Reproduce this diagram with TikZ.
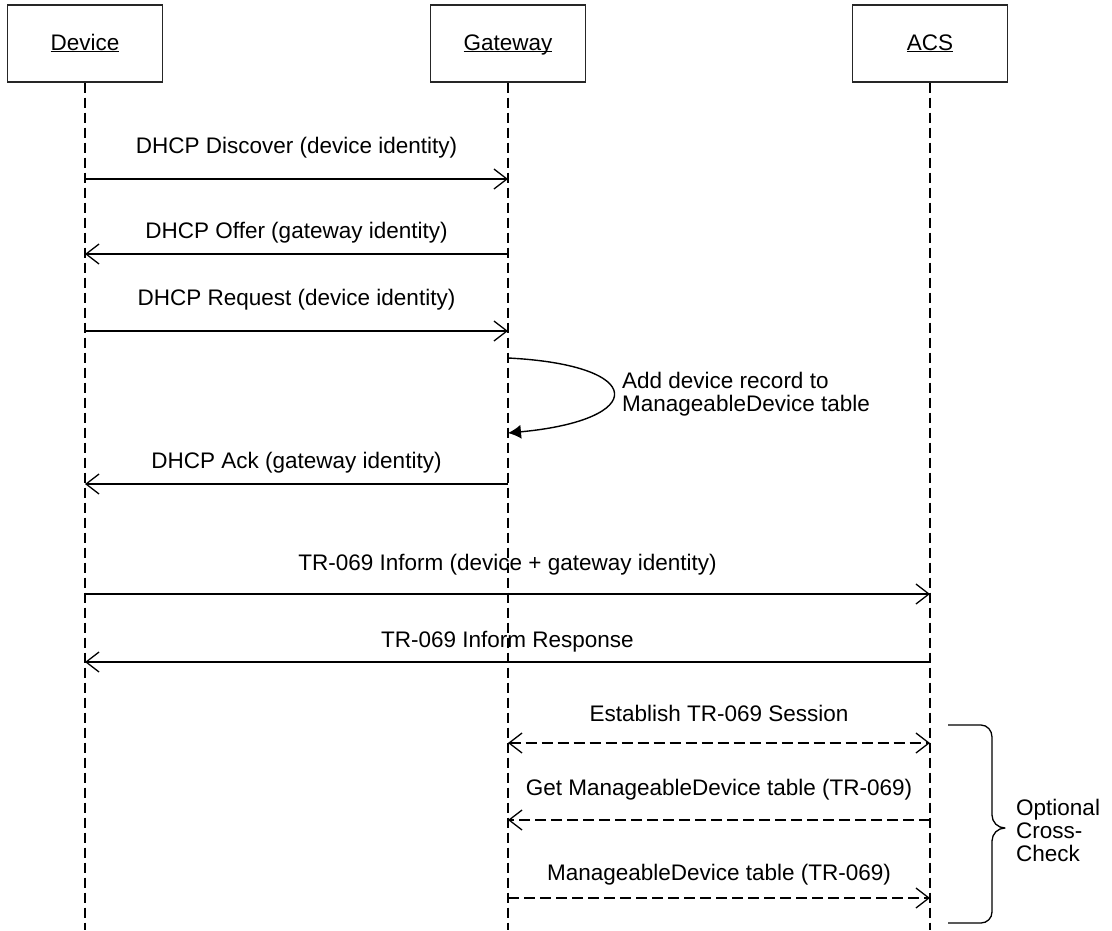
\documentclass[tikz,border=0pt]{standalone}
\usepackage{fontspec}
\setmainfont{Liberation Sans}
\usetikzlibrary{arrows.meta}
\newcommand{\ulabel}[1]{\underline{\smash{#1}\vphantom{D}}}
\begin{document}
\begin{tikzpicture}[x=1pt,y=-1pt,
  every node/.style={font=\fontsize{22.5}{23}\selectfont, inner sep=0pt},
  actor/.style={draw=black!85, line width=1.3pt, minimum width=155pt, minimum height=77pt, fill=white},
  life/.style={line width=2.7pt, dash pattern=on 10pt off 5pt},
  msg/.style={line width=1.4pt, -{Straight Barb[length=13pt,width=20pt,line width=1.3pt]}},
  dmsg/.style={line width=2.5pt, dash pattern=on 11pt off 5pt, -{Straight Barb[length=13pt,width=20pt,line width=1.3pt]}},
  dmsgboth/.style={line width=2.5pt, dash pattern=on 11pt off 5pt, {Straight Barb[length=13pt,width=20pt,line width=1.3pt]}-{Straight Barb[length=13pt,width=20pt,line width=1.3pt]}},
  selfmsg/.style={line width=1.4pt, -{Latex[length=13pt,width=14pt]}},
  lbl/.style={anchor=center},
  brace/.style={line width=1.3pt, line join=round}
]
\useasboundingbox (0,0) rectangle (1112,930);
\def\xD{85}
\def\xG{508}
\def\xA{930}

% actors
\node[actor] (dev) at (\xD,43.5) {\ulabel{Device}};
\node[actor] (gw)  at (\xG,43.5) {\ulabel{Gateway}};
\node[actor] (acs) at (\xA,43.5) {\ulabel{ACS}};

% lifelines
\coordinate (devEnd) at (\xD,930);
\coordinate (gwEnd)  at (\xG,930);
\coordinate (acsEnd) at (\xA,930);
\draw[life] (dev.south) -- (devEnd);
\draw[life] (gw.south) -- (gwEnd);
\draw[life] (acs.south) -- (acsEnd);

% message points
\coordinate (d1) at (\xD,179); \coordinate (g1) at (\xG,179);
\coordinate (d2) at (\xD,254); \coordinate (g2) at (\xG,254);
\coordinate (d3) at (\xD,331); \coordinate (g3) at (\xG,331);
\coordinate (gs) at (\xG,358); \coordinate (ge) at (\xG,433);
\coordinate (d4) at (\xD,484); \coordinate (g4) at (\xG,484);
\coordinate (d5) at (\xD,594); \coordinate (a5) at (\xA,594);
\coordinate (d6) at (\xD,662); \coordinate (a6) at (\xA,662);
\coordinate (g7) at (\xG,743); \coordinate (a7) at (\xA,743);
\coordinate (g8) at (\xG,820); \coordinate (a8) at (\xA,820);
\coordinate (g9) at (\xG,898); \coordinate (a9) at (\xA,898);

% messages
\draw[msg] (d1) -- (g1);
\node[lbl] (l1) at (296.5,148) {DHCP Discover (device identity)};
\draw[msg] (g2) -- (d2);
\node[lbl] (l2) at (296.5,233) {DHCP Offer (gateway identity)};
\draw[msg] (d3) -- (g3);
\node[lbl] (l3) at (296.5,300) {DHCP Request (device identity)};

\draw[selfmsg] (gs) .. controls (648,365) and (648,420) .. (ge);
\node[anchor=west, align=left, font=\fontsize{22.5}{23}\selectfont] (lself) at (622,394) {Add device record to\\ManageableDevice table};

\draw[msg] (g4) -- (d4);
\node[lbl] (l4) at (296.5,463) {DHCP Ack (gateway identity)};
\draw[msg] (d5) -- (a5);
\node[lbl] (l5) at (507.5,565) {TR-069 Inform (device + gateway identity)};
\draw[msg] (a6) -- (d6);
\node[lbl] (l6) at (507.5,642) {TR-069 Inform Response};

\draw[dmsgboth] (g7) -- (a7);
\node[lbl] (l7) at (719,713) {Establish TR-069 Session};
\draw[dmsg] (a8) -- (g8);
\node[lbl] (l8) at (719,790) {Get ManageableDevice table (TR-069)};
\draw[dmsg] (g9) -- (a9);
\node[lbl] (l9) at (719,875) {ManageableDevice table (TR-069)};

% brace
\draw[brace] (948,725) -- (981,725) to[out=0,in=90] (992,737) -- (992,815)
  to[out=-90,in=180] (1005,828) to[out=180,in=90] (992,841) -- (992,912)
  to[out=-90,in=0] (981,923) -- (948,923);
\node[anchor=west, align=left, font=\fontsize{22.5}{23}\selectfont] (lopt) at (1016,830) {Optional\\Cross-\\Check};
\end{tikzpicture}
\end{document}
